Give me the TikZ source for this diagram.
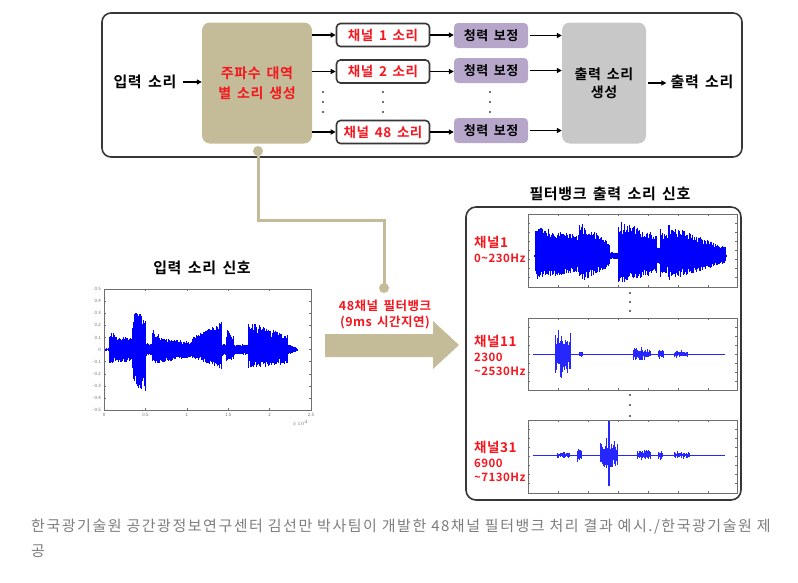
\documentclass[tikz,border=0pt]{standalone}
\usepackage{fontspec}
\setmainfont{Noto Sans CJK KR}[BoldFont={Noto Sans CJK KR Bold}]
\newfontfamily\kbfam{Noto Sans CJK KR Bold}[LetterSpace=4,WordSpace=1.6]
\newfontfamily\kcapfam{Noto Sans CJK KR}[LetterSpace=10.2]
\usetikzlibrary{arrows.meta}
\definecolor{ktan}{RGB}{196,188,152}
\definecolor{klav}{RGB}{181,166,202}
\definecolor{kgray}{RGB}{200,200,200}
\definecolor{kred}{RGB}{245,22,30}
\definecolor{kframe}{RGB}{55,55,55}
\definecolor{kcap}{RGB}{125,125,125}
\definecolor{kaxis}{RGB}{110,110,110}
\newcommand\kbold{\kbfam}
\tikzset{
  arr/.style={-{Triangle[length=5pt,width=5pt]}, line width=1.3pt, black},
  tanbox/.style={fill=ktan, rounded corners=8pt, minimum width=110pt, minimum height=121pt, inner sep=0pt, font=\kbold\fontsize{14}{20}\selectfont, text=kred, align=center},
  chbox/.style={draw=kframe, line width=1.6pt, fill=white, rounded corners=4pt, minimum width=93pt, minimum height=23pt, inner sep=0pt, font=\kbold\fontsize{13.5}{15}\selectfont, text=kred},
  pbox/.style={fill=klav, rounded corners=4pt, minimum width=74pt, minimum height=25pt, inner sep=0pt, font=\kbold\fontsize{13}{15}\selectfont},
  graybox/.style={fill=kgray, rounded corners=8pt, minimum width=84pt, minimum height=121pt, inner sep=0pt, font=\kbold\fontsize{14}{18}\selectfont, align=center},
  lbl/.style={inner sep=0pt, font=\kbold\fontsize{15}{17}\selectfont},
  redlbl/.style={inner sep=0pt, anchor=west, text=kred, font=\kbold\fontsize{13.5}{15}\selectfont},
  rednum/.style={inner sep=0pt, anchor=west, text=kred, font=\kbold\fontsize{11.5}{13}\selectfont},
  frame/.style={draw=kframe, line width=1.6pt, rounded corners=9pt},
  conn/.style={ktan, line width=3pt},
  joint/.style={circle, fill=ktan, inner sep=0pt, minimum size=10pt},
  axisbox/.style={draw=kaxis, line width=0.6pt},
  tick/.style={kaxis, line width=0.4pt},
  ticklbl/.style={inner sep=0pt, text=kaxis, font=\fontsize{4.5}{5}\selectfont},
  wave/.style={blue, line width=0.55pt},
  thinwave/.style={blue!85!white, line width=0.45pt},
  smalldot/.style={fill=black!75}
}
\begin{document}
\begin{tikzpicture}[x=1pt,y=-1pt,
  declare function={
    sg(\x,\a,\b,\h,\d)=(\h)*(\x>\a)*(\x<\b)*(1-(\d)*(\x-\a)/(\b-\a));
    iu(\x)=0.012+sg(\x,0.06,0.34,0.10,0.15)+sg(\x,0.08,0.13,0.03,0)+sg(\x,0.34,0.50,0.30,0.05)+sg(\x,0.50,0.58,0.04,0)+sg(\x,0.58,0.66,0.17,0.35)+sg(\x,0.66,0.86,0.09,0.3)+sg(\x,0.86,1.06,0.07,0.2)+sg(\x,1.06,1.42,0.09,-1.4)+sg(\x,1.42,1.48,0.04,0)+sg(\x,1.48,1.56,0.15,0.3)+sg(\x,1.56,1.74,0.03,0)+sg(\x,1.74,2.22,0.22,0.5)+sg(\x,2.22,2.32,0.03,0.8);
    il(\x)=0.012+sg(\x,0.06,0.34,0.10,0.1)+sg(\x,0.34,0.50,0.25,-0.5)+sg(\x,0.50,0.58,0.04,0)+sg(\x,0.58,0.86,0.12,0.4)+sg(\x,0.86,1.06,0.07,0.2)+sg(\x,1.06,1.42,0.06,-1.5)+sg(\x,1.42,1.48,0.04,0)+sg(\x,1.48,1.56,0.08,0)+sg(\x,1.56,1.74,0.03,0)+sg(\x,1.74,2.22,0.15,0.3)+sg(\x,2.22,2.32,0.03,0.8);
    ca(\x)=1+sg(\x,535,575,29,0.3)+sg(\x,575,579,20,0)+sg(\x,579,610,33,0.6)+sg(\x,610,618,3,0)+sg(\x,618,657,34,0.35)+sg(\x,657,660,10,0)+sg(\x,660,668,27,0.3)+sg(\x,668,726,31,0.75);
    cb(\x)=sg(\x,555,571,26,-0.1)+sg(\x,579,583,4,0)+sg(\x,633,642,9,0)+sg(\x,642,651,7,0.3)+sg(\x,658,664,7,0.2)+sg(\x,674,688,5,0.3);
    cc(\x)=sg(\x,557,569,4,0)+sg(\x,577,582,8,0)+sg(\x,600,618,21,0.2)+sg(\x,637,650,6,0)+sg(\x,658,662,6,0)+sg(\x,674,690,4,0);
    sp(\x)=sg(\x,608.2,609.8,34,0);
  }]
\useasboundingbox (0,0) rectangle (798,582);
\pgfmathsetseed{7}

% ---------- top block diagram ----------
\draw[frame] (102,13) rectangle (742,157);

\node[lbl] (insnd) at (145,82) {입력 소리};
\node[tanbox] (split) at (257,83) {주파수 대역\\별 소리 생성};
\node[chbox] (ch1) at (383,35) {채널 1 소리};
\node[chbox] (ch2) at (383,71.5) {채널 2 소리};
\node[chbox] (ch48) at (383,132) {채널 48 소리};
\node[pbox] (pb1) at (491,35.5) {청력 보정};
\node[pbox] (pb2) at (491,70.5) {청력 보정};
\node[pbox] (pb48) at (491,130.5) {청력 보정};
\node[graybox] (gen) at (604,83) {출력 소리\\생성};
\node[lbl] (outsnd) at (702,82) {출력 소리};

\draw[arr] (insnd.east) ++(6,0) coordinate (ia) -- (split.west |- ia);
\foreach \c in {ch1,ch2,ch48}{\draw[arr] (split.east |- \c) -- (\c.west);}
\draw[arr] (ch1.east) -- (pb1.west |- ch1);
\draw[arr] (ch2.east) -- (pb2.west |- ch2);
\draw[arr] (ch48.east) -- (pb48.west |- ch48);
\foreach \p in {pb1,pb2,pb48}{\draw[arr] (\p.east) ++(2,0) coordinate (pa) -- (gen.west |- pa);}
\draw[arr] (gen.east) ++(2,0) coordinate (ga) -- ([xshift=-4pt]outsnd.west |- ga);

\foreach \xx in {323,383,490}{\foreach \yy in {92,102,112}{\fill[smalldot] (\xx,\yy) circle (1.2pt);}}

% ---------- tan connector ----------
\node[joint] (ja) at (258,151) {};
\node[joint] (jb) at (384,288) {};
\draw[conn] (ja.center) -- ++(0,69) -| (jb.center);

% ---------- input signal ----------
\node[lbl] (intitle) at (202,268) {입력 소리 신호};
\draw[axisbox] (104,289) rectangle (311,410);
\foreach \k [evaluate=\k as \yy using 289+12.1*\k] in {0,...,10}{
  \draw[tick] (104,\yy) -- ++(2,0);
  \draw[tick] (311,\yy) -- ++(-2,0);
}
\foreach \lab [count=\k from 0] in {0.5,0.4,0.3,0.2,0.1,0,-0.1,-0.2,-0.3,-0.4,-0.5}{
  \node[ticklbl, anchor=east] (yl\k) at (101,289+12.1*\k) {\lab};
}
\foreach \lab [count=\k from 0] in {0,0.5,1,1.5,2,2.5}{
  \draw[tick] (104+41.4*\k,410) -- ++(0,-2);
  \draw[tick] (104+41.4*\k,289) -- ++(0,2);
  \node[ticklbl, anchor=north] (xl\k) at (104+41.4*\k,413) {\lab};
}
\node[ticklbl, anchor=north] (xexp) at (300,420) {$\times 10^4$};
\begin{scope}[shift={(104pt,-349.5pt)}, x=82.8pt, y=121pt]
\draw[wave] \foreach \i in {0,...,520} {({0.02+\i*0.00444},{iu(0.02+\i*0.00444)*(0.55+0.45*rnd)}) -- ({0.02+\i*0.00444},{-il(0.02+\i*0.00444)*(0.55+0.45*rnd)})};
\end{scope}

% ---------- big arrow ----------
\fill[ktan] (325,334) -- (433,334) -- (433,321) -- (459,345) -- (433,369) -- (433,357) -- (325,357) -- cycle;
\node[inner sep=0pt, text=kred, font=\kbold\fontsize{12.5}{14}\selectfont] (fb1) at (385,306) {48채널 필터뱅크};
\node[inner sep=0pt, text=kred, font=\kbold\fontsize{12.5}{14}\selectfont] (fb2) at (385,323) {(9ms 시간지연)};

% ---------- filter bank output ----------
\node[lbl] (outtitle) at (610,194) {필터뱅크 출력 소리 신호};
\draw[frame, rounded corners=10pt] (466,207) rectangle (741,500);

\foreach \top/\bot in {214/287, 318/390, 420/493}{
  \draw[axisbox] (528,\top) rectangle (737,\bot);
  \foreach \xx in {558,588,618,648,678,708}{
    \draw[tick] (\xx,\top) -- ++(0,2);
    \draw[tick] (\xx,\bot) -- ++(0,-2);
  }
  \foreach \k in {1,...,7}{
    \draw[tick] (528,\top+9*\k) -- ++(2,0);
    \draw[tick] (737,\top+9*\k) -- ++(-2,0);
  }
}

\begin{scope}[shift={(0pt,-256pt)}, y=1pt]
\draw[wave] \foreach \i in {0,...,320} {({534+0.6*\i},{ca(534+0.6*\i)*(0.65+0.35*rnd)}) -- ({534+0.6*\i},{-0.78*ca(534+0.6*\i)*(0.65+0.35*rnd)})};
\end{scope}
\begin{scope}[shift={(0pt,-354pt)}, y=1pt]
\draw[blue!85!white, line width=0.5pt] (533,0) -- (725,0);
\draw[thinwave] \foreach \i in {0,...,320} {({534+0.6*\i},{cb(534+0.6*\i)*(0.3+0.7*rnd*rnd)}) -- ({534+0.6*\i},{-cb(534+0.6*\i)*(0.3+0.7*rnd*rnd)})};
\end{scope}
\begin{scope}[shift={(0pt,-455pt)}, y=1pt]
\draw[blue!85!white, line width=0.5pt] (533,0) -- (725,0);
\draw[thinwave] \foreach \i in {0,...,320} {({534+0.6*\i},{max(cc(534+0.6*\i)*(0.3+0.7*rnd*rnd),sp(534+0.6*\i))}) -- ({534+0.6*\i},{-max(cc(534+0.6*\i)*(0.3+0.7*rnd*rnd),0.92*sp(534+0.6*\i))})};
\end{scope}

\foreach \yy in {293,302,311,395,405,416}{\fill[smalldot] (630,\yy) circle (1.2pt);}

\node[redlbl] (l1a) at (474,242) {채널1};
\node[rednum] (l1b) at (474,258) {0\textasciitilde230Hz};
\node[redlbl] (l2a) at (474,341) {채널11};
\node[rednum] (l2b) at (474,357) {2300};
\node[rednum] (l2c) at (474,371) {\textasciitilde2530Hz};
\node[redlbl] (l3a) at (474,447) {채널31};
\node[rednum] (l3b) at (474,463) {6900};
\node[rednum] (l3c) at (474,477) {\textasciitilde7130Hz};

% ---------- caption ----------
\node[inner sep=0pt, anchor=west, text=kcap, font=\kcapfam\fontsize{15}{17}\selectfont] (cap1) at (31,527) {한국광기술원 공간광정보연구센터 김선만 박사팀이 개발한 48채널 필터뱅크 처리 결과 예시./한국광기술원 제};
\node[inner sep=0pt, anchor=west, text=kcap, font=\kcapfam\fontsize{15}{17}\selectfont] (cap2) at (31,551) {공};
\end{tikzpicture}
\end{document}
